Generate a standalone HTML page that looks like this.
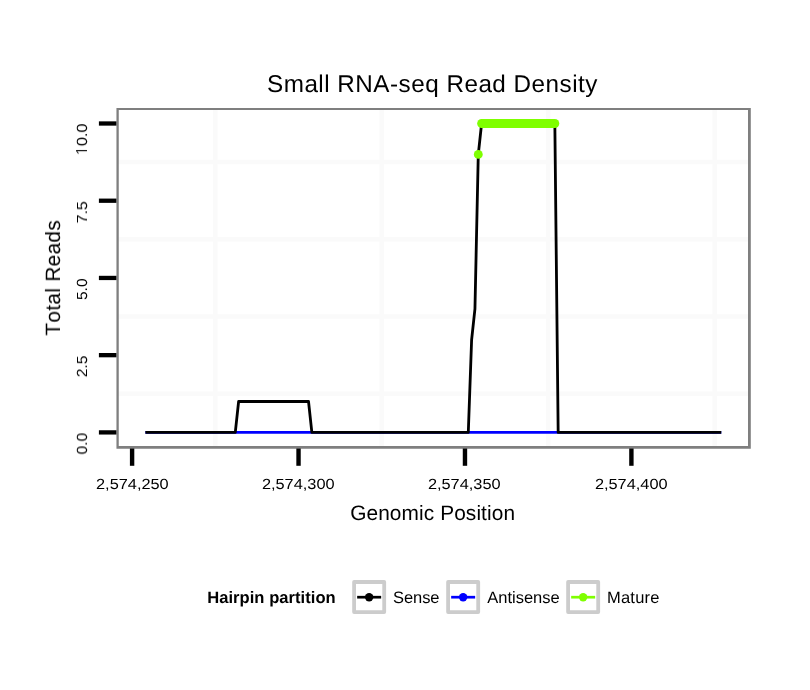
<!DOCTYPE html>
<html><head><meta charset="utf-8"><title>Small RNA-seq Read Density</title>
<style>html,body{margin:0;padding:0;background:#fff;}svg{display:block;} text{font-kerning:none;will-change:transform;text-rendering:geometricPrecision;}</style></head>
<body><svg width="810" height="690" viewBox="0 0 810 690">
<rect x="0" y="0" width="810" height="690" fill="#fff"/>
<line x1="215.32" y1="109.0" x2="215.32" y2="447.4" stroke="#fafafa" stroke-width="4.5"/>
<line x1="381.75" y1="109.0" x2="381.75" y2="447.4" stroke="#fafafa" stroke-width="4.5"/>
<line x1="548.18" y1="109.0" x2="548.18" y2="447.4" stroke="#fafafa" stroke-width="4.5"/>
<line x1="714.62" y1="109.0" x2="714.62" y2="447.4" stroke="#fafafa" stroke-width="4.5"/>
<line x1="117.6" y1="393.79" x2="749.4" y2="393.79" stroke="#fafafa" stroke-width="4.5"/>
<line x1="117.6" y1="316.56" x2="749.4" y2="316.56" stroke="#fafafa" stroke-width="4.5"/>
<line x1="117.6" y1="239.34" x2="749.4" y2="239.34" stroke="#fafafa" stroke-width="4.5"/>
<line x1="117.6" y1="162.11" x2="749.4" y2="162.11" stroke="#fafafa" stroke-width="4.5"/>
<line x1="145.41" y1="432.40" x2="721.27" y2="432.40" stroke="#0000ff" stroke-width="2.8"/>
<polyline points="145.41,432.40 235.29,432.40 238.62,401.51 308.52,401.51 311.85,432.40 468.30,432.40 471.62,339.73 474.95,308.84 478.28,154.39 481.61,123.50 554.84,123.50 558.17,432.40 721.27,432.40" fill="none" stroke="#000" stroke-width="2.8" stroke-linejoin="round"/>
<circle cx="478.28" cy="154.39" r="4.45" fill="#7fff00"/>
<line x1="481.61" y1="123.50" x2="554.84" y2="123.50" stroke="#7fff00" stroke-width="8.9" stroke-linecap="round"/>
<path d="M116.45,108.0H750.8V448.65H116.45Z M118.75,110.0V445.95H748.0V110.0Z" fill="#7f7f7f" fill-rule="evenodd"/>
<line x1="98.9" y1="432.40" x2="116.4" y2="432.40" stroke="#000" stroke-width="4.3"/>
<line x1="98.9" y1="355.17" x2="116.4" y2="355.17" stroke="#000" stroke-width="4.3"/>
<line x1="98.9" y1="277.95" x2="116.4" y2="277.95" stroke="#000" stroke-width="4.3"/>
<line x1="98.9" y1="200.72" x2="116.4" y2="200.72" stroke="#000" stroke-width="4.3"/>
<line x1="98.9" y1="123.50" x2="116.4" y2="123.50" stroke="#000" stroke-width="4.3"/>
<line x1="132.10" y1="448.5" x2="132.10" y2="465.8" stroke="#000" stroke-width="4.4"/>
<line x1="298.53" y1="448.5" x2="298.53" y2="465.8" stroke="#000" stroke-width="4.4"/>
<line x1="464.97" y1="448.5" x2="464.97" y2="465.8" stroke="#000" stroke-width="4.4"/>
<line x1="631.40" y1="448.5" x2="631.40" y2="465.8" stroke="#000" stroke-width="4.4"/>
<text class="r" transform="translate(87.00,454.43) rotate(-90)" font-family="Liberation Sans, Arial, Helvetica, sans-serif" font-size="14.7" font-weight="normal" textLength="21.52" lengthAdjust="spacingAndGlyphs">0.0</text>
<text class="r" transform="translate(87.00,377.20) rotate(-90)" font-family="Liberation Sans, Arial, Helvetica, sans-serif" font-size="14.7" font-weight="normal" textLength="21.52" lengthAdjust="spacingAndGlyphs">2.5</text>
<text class="r" transform="translate(87.00,299.98) rotate(-90)" font-family="Liberation Sans, Arial, Helvetica, sans-serif" font-size="14.7" font-weight="normal" textLength="21.52" lengthAdjust="spacingAndGlyphs">5.0</text>
<text class="r" transform="translate(87.00,223.40) rotate(-90)" font-family="Liberation Sans, Arial, Helvetica, sans-serif" font-size="14.7" font-weight="normal" textLength="22.26" lengthAdjust="spacingAndGlyphs">7.5</text>
<text class="r" transform="translate(87.00,156.14) rotate(-90)" font-family="Liberation Sans, Arial, Helvetica, sans-serif" font-size="14.7" font-weight="normal" textLength="32.70" lengthAdjust="spacingAndGlyphs"><tspan font-family="NanumGothic, Liberation Sans, sans-serif">1</tspan>0.0</text>
<text x="96.01" y="489.00" font-family="Liberation Sans, Arial, Helvetica, sans-serif" font-size="14.6" font-weight="normal" textLength="72.72" lengthAdjust="spacingAndGlyphs">2,574,250</text>
<text x="261.91" y="489.00" font-family="Liberation Sans, Arial, Helvetica, sans-serif" font-size="14.6" font-weight="normal" textLength="72.72" lengthAdjust="spacingAndGlyphs">2,574,300</text>
<text x="427.91" y="489.00" font-family="Liberation Sans, Arial, Helvetica, sans-serif" font-size="14.6" font-weight="normal" textLength="72.72" lengthAdjust="spacingAndGlyphs">2,574,350</text>
<text x="594.90" y="489.00" font-family="Liberation Sans, Arial, Helvetica, sans-serif" font-size="14.6" font-weight="normal" textLength="72.72" lengthAdjust="spacingAndGlyphs">2,574,400</text>
<text class="r" transform="translate(60.00,335.63) rotate(-90)" font-family="Liberation Sans, Arial, Helvetica, sans-serif" font-size="20.85" font-weight="normal" textLength="115.35" lengthAdjust="spacing">Total Reads</text>
<text x="350.13" y="520.00" font-family="Liberation Sans, Arial, Helvetica, sans-serif" font-size="20.85" font-weight="normal" textLength="164.91" lengthAdjust="spacing">Genomic Position</text>
<text x="267.02" y="92.00" font-family="Liberation Sans, Arial, Helvetica, sans-serif" font-size="24.25" font-weight="normal" textLength="330.37" lengthAdjust="spacing">Small RNA-seq Read Density</text>
<text x="207.17" y="603.00" font-family="Liberation Sans, Arial, Helvetica, sans-serif" font-size="16.55" font-weight="bold" textLength="128.52" lengthAdjust="spacing">Hairpin partition</text>
<rect x="354.10" y="582.00" width="30.1" height="30.1" fill="#fff" stroke="#cccccc" stroke-width="3.8" stroke-linejoin="round"/>
<line x1="357.15" y1="597.2" x2="381.15" y2="597.2" stroke="#000" stroke-width="2.7"/>
<circle cx="369.15" cy="597.2" r="4.2" fill="#000"/>
<text x="392.98" y="603.00" font-family="Liberation Sans, Arial, Helvetica, sans-serif" font-size="16.5" font-weight="normal" textLength="46.57" lengthAdjust="spacing">Sense</text>
<rect x="448.10" y="582.00" width="30.1" height="30.1" fill="#fff" stroke="#cccccc" stroke-width="3.8" stroke-linejoin="round"/>
<line x1="451.15" y1="597.2" x2="475.15" y2="597.2" stroke="#0000ff" stroke-width="2.7"/>
<circle cx="463.15" cy="597.2" r="4.2" fill="#0000ff"/>
<text x="487.36" y="603.00" font-family="Liberation Sans, Arial, Helvetica, sans-serif" font-size="16.5" font-weight="normal" textLength="72.34" lengthAdjust="spacing">Antisense</text>
<rect x="568.10" y="582.00" width="30.1" height="30.1" fill="#fff" stroke="#cccccc" stroke-width="3.8" stroke-linejoin="round"/>
<line x1="571.15" y1="597.2" x2="595.15" y2="597.2" stroke="#7fff00" stroke-width="2.7"/>
<circle cx="583.15" cy="597.2" r="4.2" fill="#7fff00"/>
<text x="606.90" y="603.00" font-family="Liberation Sans, Arial, Helvetica, sans-serif" font-size="16.5" font-weight="normal" textLength="52.61" lengthAdjust="spacing">Mature</text>
</svg></body></html>
